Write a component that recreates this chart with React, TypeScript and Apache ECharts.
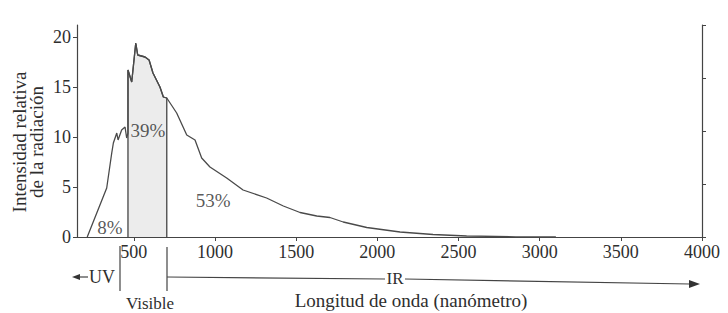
import React, { useEffect, useRef } from "react";
import * as echarts from "echarts";

// Spectrum curve: wavelength (nm) and relative intensity
const wavelengths = [213, 333, 364, 374, 395, 403, 425, 446, 456, 464, 464, 487, 512, 524, 569, 594, 618, 661, 682, 703, 764, 826, 877, 918, 969, 1072, 1173, 1318, 1421, 1524, 1627, 1708, 1790, 1935, 2140, 2343, 2550, 2854, 3100];
const intensities = [0, 4.9, 8.4, 9.4, 10.4, 9.7, 10.7, 11.0, 9.9, 10.4, 16.7, 15.5, 19.4, 18.2, 18.0, 17.7, 16.4, 15.0, 14.0, 13.9, 12.4, 10.2, 9.7, 7.9, 7.0, 5.9, 4.7, 3.9, 3.1, 2.45, 2.1, 1.95, 1.5, 0.95, 0.5, 0.25, 0.1, 0.02, 0];

const visibleStart = 464;
const visibleEnd = 703;

const xTicks = [500, 1000, 1500, 2000, 2500, 3000, 3500, 4000];
const yTicks = [0, 5, 10, 15, 20];

const pctLabels = ["8%", "39%", "53%"];
const pctX = [353, 587, 988];
const pctY = [1.0, 10.7, 3.7];

const FONT = "Liberation Serif";
const INK = "#2e2e2e";

export default function App() {
  const ref = useRef<HTMLDivElement>(null);
  useEffect(() => {
    if (!ref.current) return;
    const chart = echarts.init(ref.current, null, { renderer: "svg" });
    const curve = wavelengths.map((w, i) => [w, intensities[i]]);
    const band = [
      [visibleStart, 0],
      ...curve.filter((p) => p[0] >= visibleStart && p[0] <= visibleEnd),
      [visibleEnd, 0],
    ];
    const lbl = { fontFamily: FONT, fontSize: 18, color: INK };
    const big = { fontFamily: FONT, fontSize: 19, fill: INK };
    chart.setOption({
      animation: false,
      grid: { left: 77, right: 26, top: 25, bottom: 76 },
      xAxis: {
        type: "value",
        min: 150,
        max: 4000,
        splitLine: { show: false },
        axisLine: { lineStyle: { color: "#444", width: 1.2 } },
        axisTick: { customValues: xTicks, length: 4, lineStyle: { color: "#444" } },
        axisLabel: { customValues: xTicks, margin: 6, formatter: (v: number) => String(v), ...lbl },
      },
      yAxis: [
        {
          type: "value",
          min: 0,
          max: 21.2,
          splitLine: { show: false },
          axisLine: { show: true, lineStyle: { color: "#444", width: 1.2 } },
          axisTick: { show: true, customValues: yTicks, length: 4, lineStyle: { color: "#444" } },
          axisLabel: { customValues: yTicks, margin: 6, formatter: (v: number) => String(v), ...lbl },
        },
        {
          type: "value",
          position: "right",
          min: 0,
          max: 4,
          interval: 1,
          splitLine: { show: false },
          axisLine: { show: true, lineStyle: { color: "#444", width: 1.2 } },
          axisTick: { show: true, length: 4, lineStyle: { color: "#444" } },
          axisLabel: { show: false },
        },
      ],
      series: [
        {
          type: "line",
          data: band,
          symbol: "none",
          lineStyle: { color: "#444", width: 1.3 },
          areaStyle: { color: "#ececec", opacity: 1 },
          z: 1,
        },
        {
          type: "line",
          data: curve,
          symbol: "none",
          lineStyle: { color: "#4a4a4a", width: 1.3 },
          z: 2,
        },
        {
          type: "scatter",
          symbolSize: 0,
          data: pctLabels.map((t, i) => ({ name: t, value: [pctX[i], pctY[i]] })),
          label: {
            show: true,
            position: "inside",
            formatter: (p: any) => p.name,
            fontFamily: FONT,
            fontSize: 19,
            color: INK,
          },
          z: 3,
        },
      ],
      graphic: [
        {
          type: "text",
          x: 28,
          y: 142,
          rotation: Math.PI / 2,
          style: {
            text: "Intensidad relativa\nde la radiación",
            ...big,
            lineHeight: 17,
            align: "center",
            verticalAlign: "middle",
          },
        },
        { type: "line", shape: { x1: 120, y1: 246, x2: 120, y2: 291 }, style: { stroke: "#444", lineWidth: 1.2 } },
        { type: "line", shape: { x1: 167, y1: 247, x2: 167, y2: 291 }, style: { stroke: "#444", lineWidth: 1.2 } },
        { type: "polygon", shape: { points: [[72, 277], [80, 274], [80, 280]] }, style: { fill: "#333" } },
        { type: "line", shape: { x1: 79, y1: 277, x2: 88, y2: 277 }, style: { stroke: "#444", lineWidth: 1.2 } },
        { type: "text", x: 102, y: 277, style: { text: "UV", ...big, fontSize: 18, align: "center", verticalAlign: "middle" } },
        { type: "line", shape: { x1: 167, y1: 277, x2: 385, y2: 279 }, style: { stroke: "#444", lineWidth: 1.2 } },
        { type: "text", x: 395, y: 278, style: { text: "IR", ...big, fontSize: 17, align: "center", verticalAlign: "middle" } },
        { type: "line", shape: { x1: 405, y1: 279, x2: 690, y2: 284 }, style: { stroke: "#444", lineWidth: 1.2 } },
        { type: "polygon", shape: { points: [[700, 284], [689, 280], [689, 288]] }, style: { fill: "#333" } },
        { type: "text", x: 411, y: 300, style: { text: "Longitud de onda (nanómetro)", ...big, align: "center", verticalAlign: "middle" } },
        { type: "text", x: 150, y: 303, style: { text: "Visible", ...big, fontSize: 17, align: "center", verticalAlign: "middle" } },
      ],
    });
    return () => chart.dispose();
  }, []);
  return <div ref={ref} style={{ position: "fixed", left: 0, top: 0, width: 728, height: 313, background: "#fff" }} />;
}
